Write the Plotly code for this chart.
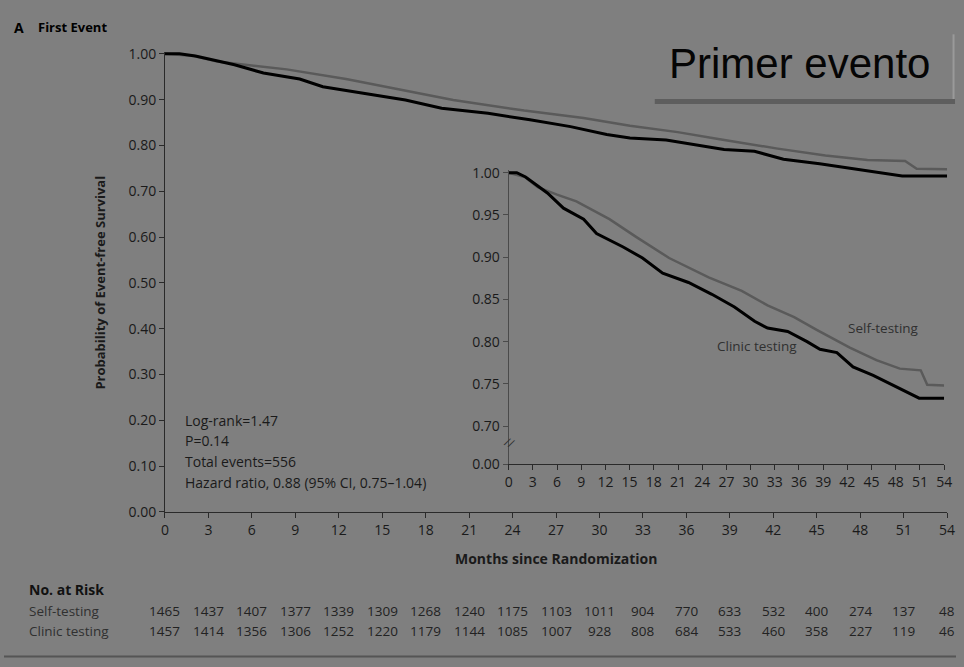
import plotly.graph_objects as go

W, H = 964, 667

# ---------------- data ----------------
months_self = [0, 2.0, 3.6, 6.0, 8.4, 12.5, 15.8, 19.9, 24.8, 28.9, 32.1, 35.4, 38.2, 42.3, 45.6, 48.5, 51.1, 51.9, 54.0]
surv_self = [1.000, 0.995, 0.983, 0.974, 0.966, 0.945, 0.924, 0.899, 0.876, 0.860, 0.843, 0.829, 0.814, 0.793, 0.778, 0.768, 0.766, 0.749, 0.748]

months_clinic = [0, 1.0, 2.1, 4.8, 6.8, 9.3, 10.9, 14.2, 16.6, 19.1, 22.3, 25.2, 28.0, 30.5, 32.1, 34.6, 37.0, 38.6, 40.7, 42.7, 45.2, 47.6, 50.1, 50.9, 54.0]
surv_clinic = [1.000, 1.000, 0.995, 0.976, 0.958, 0.945, 0.928, 0.912, 0.899, 0.881, 0.870, 0.856, 0.841, 0.824, 0.816, 0.812, 0.800, 0.791, 0.787, 0.770, 0.760, 0.749, 0.737, 0.733, 0.733]

risk_months = [0, 3, 6, 9, 12, 15, 18, 21, 24, 27, 30, 33, 36, 39, 42, 45, 48, 51, 54]
risk_self = [1465, 1437, 1407, 1377, 1339, 1309, 1268, 1240, 1175, 1103, 1011, 904, 770, 633, 532, 400, 274, 137, 48]
risk_clinic = [1457, 1414, 1356, 1306, 1252, 1220, 1179, 1144, 1085, 1007, 928, 808, 684, 533, 460, 358, 227, 119, 46]

main_y_tickvals = [0.0, 0.1, 0.2, 0.3, 0.4, 0.5, 0.6, 0.7, 0.8, 0.9, 1.0]
main_y_ticktext = ["0.00", "0.10", "0.20", "0.30", "0.40", "0.50", "0.60", "0.70", "0.80", "0.90", "1.00"]
inset_y_tickvals = [0.655, 0.70, 0.75, 0.80, 0.85, 0.90, 0.95, 1.00]   # first is the broken-axis "0.00"
inset_y_ticktext = ["0.00", "0.70", "0.75", "0.80", "0.85", "0.90", "0.95", "1.00"]

stats_lines = ["Log-rank=1.47", "P=0.14", "Total events=556", "Hazard ratio, 0.88 (95% CI, 0.75\u20131.04)"]

# ---------------- styling ----------------
BG = "#7f7f7f"
TXT = "#1a1a1a"
SOFT = "#303030"
FONT = "Open Sans"
GRAY_LINE = "#5a5a5a"


def fx(p):
    return p / W


def fy(p):
    return 1 - p / H


def label(text, px, py, size, color=TXT, xanchor="center", angle=0, family=FONT):
    return dict(text=text, x=fx(px), y=fy(py), xref="paper", yref="paper", xanchor=xanchor,
                yanchor="middle", showarrow=False, textangle=angle,
                font=dict(family=family, size=size, color=color))


fig = go.Figure()

for xa, ya in (("x", "y"), ("x2", "y2")):
    fig.add_trace(go.Scatter(x=months_self, y=surv_self, mode="lines", xaxis=xa, yaxis=ya,
                             line=dict(color=GRAY_LINE, width=2.5), name="Self-testing", showlegend=False))
    fig.add_trace(go.Scatter(x=months_clinic, y=surv_clinic, mode="lines", xaxis=xa, yaxis=ya,
                             line=dict(color="#000000", width=3), name="Clinic testing", showlegend=False))

tickfont = dict(family=FONT, size=14, color=TXT)
axis_common = dict(showgrid=False, zeroline=False, showline=True, ticks="outside", ticklen=5,
                   tickwidth=1, tickfont=tickfont, fixedrange=True)

fig.update_layout(
    width=W, height=H,
    margin=dict(l=0, r=0, t=0, b=0),
    paper_bgcolor=BG, plot_bgcolor="rgba(0,0,0,0)",
    showlegend=False,
    xaxis=dict(domain=[fx(163), fx(955)], range=[0, 54], tickvals=risk_months,
               linecolor="#2a2a2a", tickcolor="#2a2a2a", anchor="y", **axis_common),
    yaxis=dict(domain=[fy(517), fy(47 - 0.004 * 470)], range=[0, 1.004], tickvals=main_y_tickvals,
               ticktext=main_y_ticktext, linecolor="#2a2a2a", tickcolor="#2a2a2a", anchor="x", **axis_common),
    xaxis2=dict(domain=[fx(511), fx(952)], range=[0, 54], tickvals=risk_months,
                linecolor="#2a2a2a", tickcolor="#2a2a2a", anchor="y2", **axis_common),
    yaxis2=dict(domain=[fy(468), fy(169 - 0.003 * 866.7)], range=[0.655, 1.003], tickvals=inset_y_tickvals,
                ticktext=inset_y_ticktext, linecolor="#4a4a4a", tickcolor="#4a4a4a", anchor="x2", **axis_common),
)

ann = []
ann.append(label("<b>A</b>", 8, 20, 14, "#000", xanchor="left"))
ann.append(label("<b>First Event</b>", 32, 20, 13, "#000", xanchor="left"))
ann.append(label("<b>Probability of Event-free Survival</b>", 97, 282, 13, angle=-90))
ann.append(label("<b>Months since Randomization</b>", 559, 565, 14))
for i, line in enumerate(stats_lines):
    ann.append(label(line, 181, 423 + i * 21.3, 14, xanchor="left"))
ann.append(label("Self-testing", 891, 328, 13.5, SOFT))
ann.append(label("Clinic testing", 762, 347, 13.5, SOFT))
ann.append(label("//", 512, 446, 12, SOFT, angle=25))
ann.append(label("<b>No. at Risk</b>", 23, 597, 14, "#111", xanchor="left"))
ann.append(label("Self-testing", 23, 619, 13.5, SOFT, xanchor="left"))
ann.append(label("Clinic testing", 23, 639, 13.5, SOFT, xanchor="left"))
for m, a, b in zip(risk_months, risk_self, risk_clinic):
    ann.append(dict(text=str(a), x=m, xref="x", y=fy(619), yref="paper", xanchor="center", yanchor="middle",
                    showarrow=False, font=dict(family=FONT, size=13.5, color="#222")))
    ann.append(dict(text=str(b), x=m, xref="x", y=fy(639), yref="paper", xanchor="center", yanchor="middle",
                    showarrow=False, font=dict(family=FONT, size=13.5, color="#222")))
ann.append(label("Primer evento", 806, 57, 42, "#050505", family="Liberation Sans"))
fig.update_layout(annotations=ann)

shapes = [
    dict(type="line", xref="paper", yref="paper", x0=fx(961.5), x1=fx(961.5), y0=fy(27), y1=fy(96),
         line=dict(color="#9a9a9a", width=2)),
    dict(type="line", xref="paper", yref="paper", x0=fx(659), x1=fx(963), y0=fy(96), y1=fy(96),
         line=dict(color="#5e5e5e", width=5)),
    dict(type="line", xref="paper", yref="paper", x0=0, x1=1, y0=fy(665.5), y1=fy(665.5),
         line=dict(color="#555555", width=2)),
]
fig.update_layout(shapes=shapes)

post = (
    "var s=document.createElement('style');"
    "s.textContent='html,body{margin:0!important;padding:0!important;overflow:hidden!important;"
    "background:#7f7f7f;}';"
    "document.head.appendChild(s);"
)

fig.write_html("out.html", config={"displayModeBar": False}, post_script=post)
